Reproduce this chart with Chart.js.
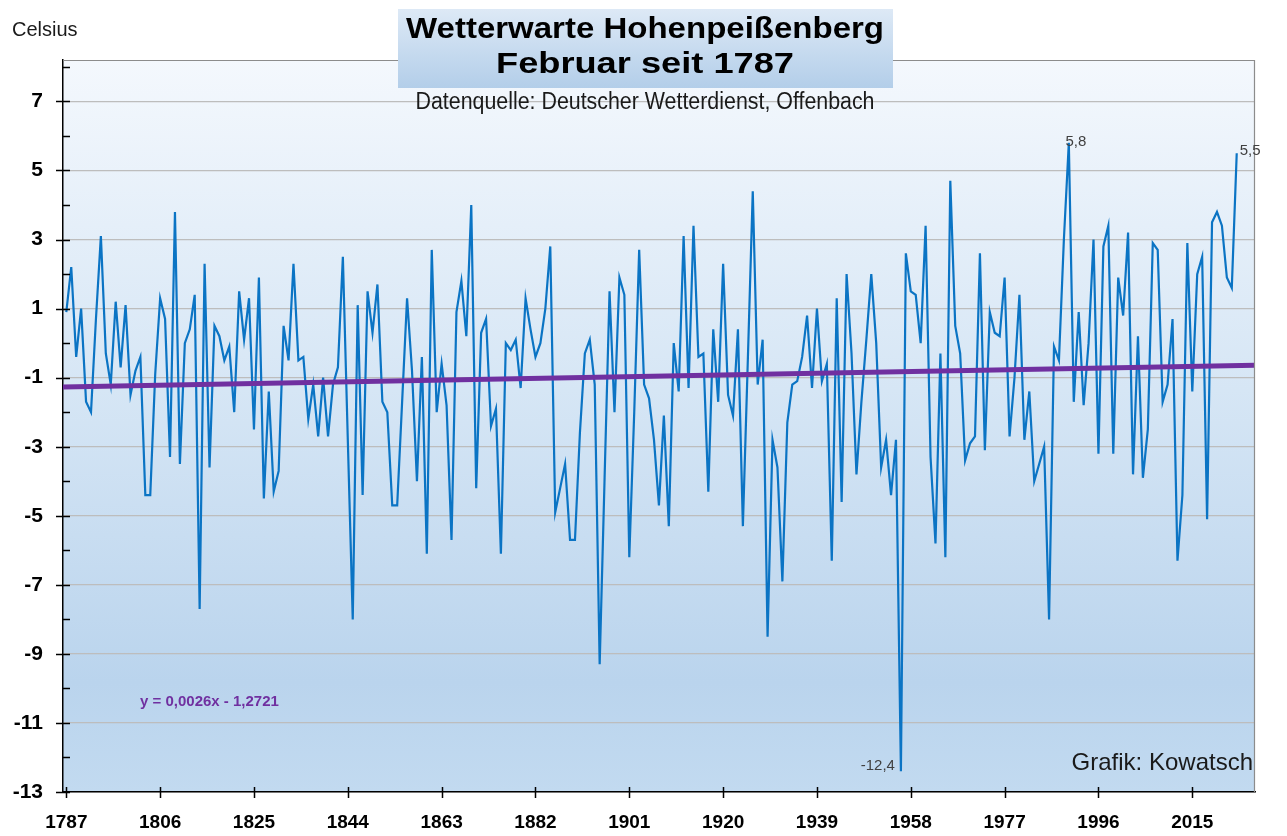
<!DOCTYPE html>
<html>
<head>
<meta charset="utf-8">
<script src="https://cdn.jsdelivr.net/npm/chart.js@4.4.0/dist/chart.umd.min.js"></script>
<style>
  body { margin: 0; background: #fff; }
  canvas { display: block; }
</style>
</head>
<body>
<canvas id="chart" width="1287" height="836"></canvas>
<script>
// Februar-Mitteltemperatur Hohenpeißenberg, 1787 - 2024
const firstYear = 1787;
const febTemps = [
  0.9, 2.2, -0.4, 1.0, -1.7, -2.0, 0.7, 3.1, -0.3, -1.2,
  1.2, -0.7, 1.1, -1.5, -0.8, -0.4, -4.4, -4.4, -0.9, 1.3,
  0.7, -3.3, 3.8, -3.5, 0.0, 0.4, 1.4, -7.7, 2.3, -3.6,
  0.5, 0.2, -0.5, -0.1, -2.0, 1.5, 0.1, 1.3, -2.5, 1.9,
  -4.5, -1.4, -4.3, -3.7, 0.5, -0.5, 2.3, -0.5, -0.4, -2.2,
  -1.2, -2.7, -1.0, -2.7, -1.2, -0.7, 2.5, -2.8, -8.0, 1.1,
  -4.4, 1.5, 0.3, 1.7, -1.7, -2.0, -4.7, -4.7, -1.7, 1.3,
  -0.8, -4.0, -0.4, -6.1, 2.7, -2.0, -0.6, -1.8, -5.7, 0.9,
  1.8, 0.2, 4.0, -4.2, 0.3, 0.7, -2.4, -1.9, -6.1, 0.0,
  -0.2, 0.1, -1.3, 1.3, 0.4, -0.4, 0.0, 1.0, 2.8, -4.9,
  -4.2, -3.5, -5.7, -5.7, -2.6, -0.3, 0.1, -1.2, -9.3, -3.9,
  1.5, -2.0, 1.9, 1.4, -6.2, -2.0, 2.7, -1.2, -1.6, -2.8,
  -4.7, -2.1, -5.3, 0.0, -1.4, 3.1, -1.3, 3.4, -0.4, -0.3,
  -4.3, 0.4, -1.7, 2.3, -1.5, -2.1, 0.4, -5.3, -0.5, 4.4,
  -1.2, 0.1, -8.5, -2.8, -3.6, -6.9, -2.3, -1.2, -1.1, -0.4,
  0.8, -1.3, 1.0, -1.1, -0.6, -6.3, 1.3, -4.6, 2.0, -0.3,
  -3.8, -1.7, 0.1, 2.0, 0.0, -3.6, -2.8, -4.4, -2.8, -12.4,
  2.6, 1.5, 1.4, 0.0, 3.4, -3.3, -5.8, -0.3, -6.2, 4.7,
  0.5, -0.3, -3.4, -2.9, -2.7, 2.6, -3.1, 0.9, 0.3, 0.2,
  1.9, -2.7, -1.0, 1.4, -2.8, -1.4, -4.0, -3.5, -3.0, -8.0,
  -0.1, -0.5, 3.0, 5.8, -1.7, 0.9, -1.8, 0.0, 3.0, -3.2,
  2.8, 3.4, -3.2, 1.9, 0.8, 3.2, -3.8, 0.2, -3.9, -2.5,
  2.9, 2.7, -1.7, -1.2, 0.7, -6.3, -4.4, 2.9, -1.4, 2.0,
  2.5, -5.1, 3.5, 3.8, 3.4, 1.9, 1.6, 5.5
];
const years = febTemps.map((_, i) => firstYear + i);

// axis ticks
const xTickYears = [1787, 1806, 1825, 1844, 1863, 1882, 1901, 1920, 1939, 1958, 1977, 1996, 2015];
const yTickValues = [7, 5, 3, 1, -1, -3, -5, -7, -9, -11, -13];
const yMinorTicks = [8, 6, 4, 2, 0, -2, -4, -6, -8, -10, -12];

// linear trend as printed in the chart (x = 1 for 1787)
const trendSlope = 0.0026;
const trendIntercept = -1.2721;

const X_MIN = 1786.33, X_MAX = 2027.7;
const trendAt = yr => trendSlope * (yr - firstYear + 1) + trendIntercept;

const FONT = '"Liberation Sans", Arial, sans-serif';
const fmt = v => String(v).replace('.', ',');

// text fitted to a width (the original uses a narrow font)
function fitText(ctx, text, cx, y, width) {
  const w = ctx.measureText(text).width;
  ctx.save();
  ctx.translate(cx, y);
  ctx.scale(width / w, 1);
  ctx.textAlign = 'center';
  ctx.fillText(text, 0, 0);
  ctx.restore();
}

const decor = {
  id: 'decor',
  beforeDraw(chart) {
    const { ctx, chartArea: a } = chart;
    ctx.save();
    ctx.fillStyle = '#fff';
    ctx.fillRect(0, 0, chart.width, chart.height);
    const g = ctx.createLinearGradient(0, a.top, 0, a.bottom);
    g.addColorStop(0, '#f4f8fd');
    g.addColorStop(0.45, '#d6e6f5');
    g.addColorStop(0.85, '#bad4ed');
    g.addColorStop(1, '#c2daf0');
    ctx.fillStyle = g;
    ctx.fillRect(a.left, a.top, a.right - a.left, a.bottom - a.top);
    ctx.restore();
  },
  afterDraw(chart) {
    const { ctx, chartArea: a, scales } = chart;
    const xs = scales.x, ys = scales.y;
    ctx.save();

    // plot border top / right
    ctx.strokeStyle = '#8c8c8c';
    ctx.lineWidth = 1.2;
    ctx.beginPath();
    ctx.moveTo(a.left, a.top + 0.5);
    ctx.lineTo(a.right - 0.5, a.top + 0.5);
    ctx.lineTo(a.right - 0.5, a.bottom);
    ctx.stroke();

    // tick marks
    ctx.strokeStyle = '#000';
    ctx.lineWidth = 1.5;
    ctx.beginPath();
    yTickValues.forEach(v => {
      const y = Math.round(ys.getPixelForValue(v)) + 0.5;
      ctx.moveTo(a.left - 7, y); ctx.lineTo(a.left + 7, y);
    });
    yMinorTicks.forEach(v => {
      const y = Math.round(ys.getPixelForValue(v)) + 0.5;
      ctx.moveTo(a.left, y); ctx.lineTo(a.left + 7, y);
    });
    xTickYears.forEach(v => {
      const x = Math.round(xs.getPixelForValue(v)) + 0.5;
      ctx.moveTo(x, a.bottom - 5); ctx.lineTo(x, a.bottom + 6);
    });
    ctx.stroke();

    // title box
    const bx = 398, by = 9, bw = 495, bh = 79;
    const tg = ctx.createLinearGradient(0, by, 0, by + bh);
    tg.addColorStop(0, '#dde9f6');
    tg.addColorStop(1, '#b3cee9');
    ctx.fillStyle = tg;
    ctx.fillRect(bx, by, bw, bh);

    ctx.fillStyle = '#000';
    ctx.textBaseline = 'alphabetic';
    ctx.font = 'bold 29px ' + FONT;
    fitText(ctx, 'Wetterwarte Hohenpeißenberg', 645, 38, 478);
    fitText(ctx, 'Februar seit 1787', 645, 73, 298);
    ctx.fillStyle = '#1a1a1a';
    ctx.font = '23px "Liberation Sans Narrow", ' + FONT;
    fitText(ctx, 'Datenquelle: Deutscher Wetterdienst, Offenbach', 645, 109, 459);

    // axis caption
    ctx.fillStyle = '#1a1a1a';
    ctx.textAlign = 'left';
    ctx.font = '20px ' + FONT;
    ctx.fillText('Celsius', 12, 36);

    // trend equation
    ctx.fillStyle = '#7030a0';
    ctx.font = 'bold 15px ' + FONT;
    ctx.fillText('y = ' + fmt(trendSlope) + 'x - ' + fmt(-trendIntercept), 140, 706);

    // credit
    ctx.fillStyle = '#1a1a1a';
    ctx.textAlign = 'right';
    ctx.font = '24px ' + FONT;
    ctx.fillText('Grafik: Kowatsch', 1253, 770);

    // value labels: maximum, minimum, last year
    const iMax = febTemps.indexOf(Math.max(...febTemps));
    const iMin = febTemps.indexOf(Math.min(...febTemps));
    const iLast = febTemps.length - 1;
    ctx.font = '15px ' + FONT;
    ctx.fillStyle = '#404040';
    ctx.textBaseline = 'middle';
    const px = i => xs.getPixelForValue(years[i]);
    const py = i => ys.getPixelForValue(febTemps[i]);
    ctx.textAlign = 'center';
    ctx.fillText(fmt(febTemps[iMax]), px(iMax) + 7, py(iMax) - 1);
    ctx.textAlign = 'left';
    ctx.fillText(fmt(febTemps[iLast]), px(iLast) + 3, py(iLast) - 2);
    ctx.textAlign = 'right';
    ctx.fillText(fmt(febTemps[iMin]), px(iMin) - 6, py(iMin) - 5);

    ctx.restore();
  }
};

new Chart(document.getElementById('chart'), {
  type: 'line',
  data: {
    datasets: [
      {
        label: 'Trend',
        data: [{ x: X_MIN, y: trendAt(X_MIN) }, { x: X_MAX, y: trendAt(X_MAX) }],
        borderColor: '#7030a0',
        borderWidth: 5,
        pointRadius: 0,
        order: 0
      },
      {
        label: 'Februar',
        data: febTemps.map((v, i) => ({ x: years[i], y: v })),
        borderColor: '#0b74c4',
        borderWidth: 2.2,
        pointRadius: 0,
        tension: 0,
        order: 1
      }
    ]
  },
  options: {
    responsive: false,
    animation: false,
    devicePixelRatio: 1,
    layout: { padding: { top: 60, right: 32, left: 0, bottom: 0 } },
    plugins: { legend: { display: false }, tooltip: { enabled: false } },
    scales: {
      x: {
        type: 'linear',
        min: X_MIN,
        max: X_MAX,
        afterBuildTicks: s => { s.ticks = xTickYears.map(v => ({ value: v })); },
        afterFit: s => { s.height = 44; },
        ticks: {
          autoSkip: false,
          maxRotation: 0,
          padding: 19,
          color: '#000',
          font: { family: FONT, size: 19, weight: 'bold' },
          callback: v => String(v)
        },
        grid: { display: true, drawOnChartArea: false, drawTicks: false },
        border: { display: true, color: '#000', width: 1.5 }
      },
      y: {
        min: -13,
        max: 8.2,
        afterBuildTicks: s => { s.ticks = yTickValues.map(v => ({ value: v })); },
        afterFit: s => { s.width = 63; },
        ticks: {
          padding: 20,
          color: '#000',
          font: { family: FONT, size: 21, weight: 'bold' },
          callback: v => String(v)
        },
        grid: { color: '#bdbdbd', lineWidth: 1.3, drawTicks: false },
        border: { display: true, color: '#000', width: 1.5 }
      }
    }
  },
  plugins: [decor]
});
</script>
</body>
</html>
